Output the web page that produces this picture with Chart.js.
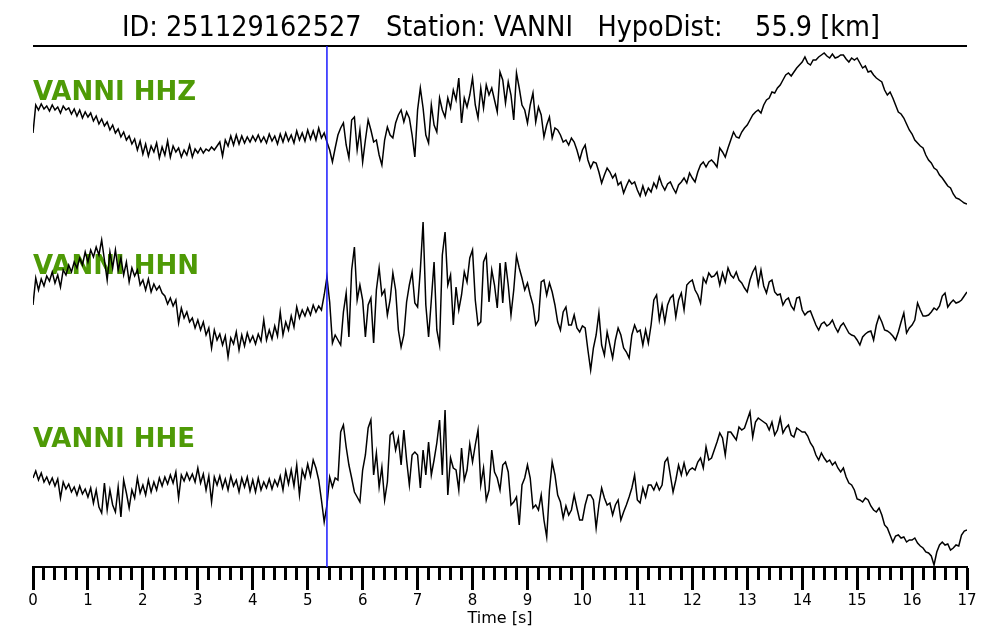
<!DOCTYPE html>
<html>
<head>
<meta charset="utf-8">
<title>VANNI seismogram</title>
<script src="https://cdn.jsdelivr.net/npm/chart.js@4.4.1/dist/chart.umd.min.js"></script>
<style>
  html, body { margin: 0; padding: 0; background: #fff; }
  #wrap { width: 1000px; height: 640px; }
</style>
</head>
<body>
<div id="wrap"><canvas id="myChart" width="1000" height="640"></canvas></div>
<script>
// Event / station info
const eventId = '251129162527';
const station = 'VANNI';
const hypoDist = 55.9;
const channels = ['HHZ', 'HHN', 'HHE'];

// Time axis: samples every 0.05 s from 0 to 17 s
const sampleStep = 0.05;
const timeMin = 0;
const timeMax = 17;
const pickTime = 5.35;

// Trace amplitudes (normalised units), one value per sample
const hhz = [
  -3, 25, 20, 26, 21, 24, 19, 25, 20, 23, 17, 24, 20, 22, 16, 21, 14, 20, 12, 18, 13,
  17, 9, 14, 6, 11, 4, 8, 0, 5, -3, 1, -7, -2, -10, -6, -14, -9, -20, -11, -24,
  -14, -26, -16, -22, -13, -28, -17, -25, -11, -27, -16, -22, -18, -27, -20, -25, -15, -27, -19, -23,
  -18, -23, -19, -21, -17, -20, -16, -12, -26, -10, -16, -6, -15, -5, -14, -6, -13, -7, -12, -6,
  -11, -5, -12, -7, -13, -4, -11, -6, -14, -4, -12, -3, -11, -5, -13, -1, -10, -3, -11, 0,
  -9, -1, -10, 2, -8, -3, -12, -20, -32, -18, -5, 2, 7, -15, -28, 10, 13, -20, 0, -32,
  -10, 10, 0, -12, -10, -25, -35, -10, 3, -5, -8, 7, 15, 20, 8, 18, 12, -5, -27, 20,
  42, 22, -5, -13, 25, 5, -2, 32, 20, 13, 32, 22, 40, 30, 52, 7, 32, 23, 35, 52,
  25, 12, 42, 22, 45, 35, 42, 30, 18, 58, 50, 27, 48, 35, 10, 57, 42, 25, 20, 7,
  25, 37, 8, 23, 15, -7, 5, 13, -8, 2, 0, -5, -12, -10, -15, -8, -12, -20, -30, -20,
  -15, -30, -38, -32, -33, -42, -53, -45, -38, -42, -48, -44, -55, -52, -63, -56, -50, -54, -52, -60,
  -66, -56, -65, -58, -62, -53, -58, -47, -55, -60, -54, -52, -58, -63, -55, -52, -48, -53, -43, -48,
  -52, -42, -35, -32, -37, -32, -30, -33, -37, -18, -22, -27, -18, -10, -2, -7, -8, -2, 2, 5,
  10, 15, 18, 20, 17, 25, 30, 32, 38, 37, 42, 45, 50, 55, 57, 54, 58, 62, 65, 68,
  73, 67, 65, 70, 70, 73, 75, 77, 74, 72, 76, 72, 73, 75, 75, 71, 68, 72, 70, 72,
  67, 62, 64, 58, 59, 55, 52, 50, 48, 40, 35, 38, 32, 25, 18, 16, 12, 6, 0, -4,
  -10, -13, -16, -18, -25, -30, -33, -38, -40, -45, -48, -52, -56, -58, -64, -68, -69, -71, -73, -74
];

const hhn = [
  -9, 18, 6, 17, 10, 20, 15, 24, 13, 21, 9, 26, 21, 31, 24, 34, 28, 38, 31, 44, 34,
  46, 39, 49, 41, 56, 36, 16, 44, 28, 46, 26, 38, 21, 34, 14, 28, 20, 26, 11, 16,
  6, 17, 4, 12, 6, 10, 3, 0, -8, -2, -10, -4, -27, -12, -22, -16, -26, -22, -32, -24,
  -34, -26, -39, -32, -52, -34, -44, -38, -49, -40, -61, -42, -48, -36, -54, -39, -50, -37, -46, -40,
  -48, -38, -45, -24, -44, -34, -43, -30, -40, -16, -39, -26, -34, -20, -31, -11, -22, -14, -20, -12,
  -19, -9, -16, -10, -14, 1, 19, -6, -47, -39, -44, -49, -16, 3, -41, 26, 49, -4, 11, -4,
  -41, -9, -2, -47, 6, 28, 1, 6, -19, -4, 23, 6, -34, -51, -39, -6, 11, 24, -7, -11,
  26, 74, -9, -41, -4, 34, -34, -49, 41, 64, 11, 21, -29, 9, -14, 1, 24, 14, 38, 46,
  -4, -29, -26, 34, 41, -6, 26, 11, -12, 33, -7, 34, 11, -19, 6, 40, 28, 18, 6, 13,
  1, -9, -29, -24, 14, 16, 1, 13, 4, -9, -26, -34, -16, -11, -29, -29, -19, -32, -36, -30,
  -32, -54, -74, -52, -39, -17, -49, -59, -36, -49, -62, -44, -32, -39, -52, -56, -62, -39, -29, -36,
  -34, -49, -34, -47, -29, -4, 1, -24, -9, -26, -9, -2, 1, -21, -4, 3, -14, 11, 14, 16,
  6, 1, -7, 18, 13, 23, 19, 20, 24, 11, 23, 14, 28, 21, 18, 24, 16, 13, 8, 4,
  16, 24, 29, 11, 26, 10, 3, 14, 16, 4, 1, 2, -9, -4, -2, -10, -14, -2, -1, -14,
  -19, -16, -15, -22, -29, -34, -28, -26, -30, -28, -24, -31, -36, -30, -27, -32, -37, -39, -40, -44,
  -49, -41, -38, -36, -35, -44, -29, -20, -26, -34, -35, -37, -40, -44, -36, -26, -17, -37, -32, -29,
  -24, -7, -14, -20, -20, -19, -16, -12, -14, -10, 0, 3, -11, -7, -4, -7, -6, -4, 0, 4
];

const hhe = [
  7, 14, 5, 12, 3, 8, 1, 7, -1, 6, -13, 3, -4, 1, -7, -2, -10, -1, -9, -4, -12,
  -3, -18, -5, -22, -28, 2, -25, -5, -20, -27, -2, -32, 5, -8, -23, -5, -13, 7, -8, 0,
  -10, 5, -7, 3, -5, 7, -1, 8, 1, 10, 2, 13, -13, 10, 4, 12, 5, 11, 3, 17,
  2, 11, -5, 9, -17, 8, 0, 9, -3, 6, -5, 9, -1, 5, -7, 7, -2, 8, -6, 5,
  -7, 7, -5, 3, -3, 6, -4, 5, -1, 9, -5, 14, 1, 15, -1, 20, -10, 15, 7, 21,
  9, 25, 17, 5, -15, -37, -20, 8, -2, 7, 5, 53, 60, 38, 20, 7, -7, -12, -17, 15,
  30, 57, 65, 10, 32, -2, 18, -15, 3, 50, 53, 35, 47, 20, 55, 25, 0, 30, 33, 30,
  -3, 35, 10, 43, 10, 25, 42, 65, 10, 75, -10, 27, 17, 15, -5, 37, 5, 15, 41, 23,
  40, 55, 0, 17, -15, -5, 35, 13, 7, -5, 20, 23, 13, -20, -17, -12, -40, 0, 7, 20,
  7, -23, -20, -25, -10, -35, -52, -5, 23, 10, -10, -17, -33, -21, -30, -25, -10, -23, -35, -35,
  -20, -10, -10, -15, -43, -20, -3, -13, -20, -18, -30, -20, -15, -35, -27, -20, -12, -3, 10, -15,
  -18, -3, -12, 0, 0, -5, 2, -5, 0, 23, 27, 10, -7, 5, 20, 10, 22, 10, 15, 17,
  15, 23, 27, 17, 38, 25, 27, 35, 43, 52, 47, 30, 53, 53, 49, 45, 58, 55, 57, 65,
  73, 48, 63, 67, 65, 63, 61, 55, 63, 50, 55, 67, 52, 57, 60, 50, 48, 57, 55, 53,
  53, 49, 42, 38, 30, 25, 32, 27, 23, 25, 20, 23, 17, 13, 17, 8, 2, 0, -5, -14,
  -15, -17, -13, -15, -21, -25, -27, -23, -30, -40, -43, -50, -57, -51, -50, -53, -52, -57, -55, -55,
  -53, -58, -61, -63, -67, -68, -71, -80, -67, -60, -57, -60, -59, -65, -63, -60, -61, -50, -46, -45
];

const traces = [hhz, hhn, hhe];
// vertical position of each trace's zero line on the (hidden) y scale
const traceOffsets = [437, 271, 82];
const yMin = 0;
const yMax = 521;

const fontFamily = '"DejaVu Sans", sans-serif';
const labelGreen = '#4e9a06';

function buildTrace(values, offset)
{
  return values.map((v, i) => ({ x: +(i * sampleStep).toFixed(2), y: offset + v }));
}

const datasets = [{
  label: 'pick',
  data: [{ x: pickTime, y: yMin }, { x: pickTime, y: yMax }],
  borderColor: '#1a1aff',
  borderWidth: 1.5,
  pointRadius: 0
}];

traces.forEach((tr, k) => {
  datasets.push({
    label: station + ' ' + channels[k],
    data: buildTrace(tr, traceOffsets[k]),
    borderColor: '#000',
    borderWidth: 1.5,
    pointRadius: 0,
    tension: 0
  });
});

// Title, rule under it and channel labels
const decorations = {
  id: 'decorations',
  beforeDatasetsDraw(chart)
  {
    const { ctx, chartArea } = chart;
    ctx.save();

    ctx.strokeStyle = '#000';
    ctx.lineWidth = 2;
    ctx.beginPath();
    ctx.moveTo(chartArea.left, chartArea.top);
    ctx.lineTo(chartArea.right, chartArea.top);
    ctx.stroke();

    const titleText = 'ID: ' + eventId + '   Station: ' + station + '   HypoDist:    ' + hypoDist.toFixed(1) + ' [km]';
    ctx.font = '29px ' + fontFamily;
    ctx.fillStyle = '#000';
    ctx.textAlign = 'center';
    ctx.textBaseline = 'alphabetic';
    const w = ctx.measureText(titleText).width;
    ctx.save();
    ctx.translate(501, 36);
    ctx.scale(758 / w, 1);
    ctx.fillText(titleText, 0, 0);
    ctx.restore();

    const labelBaselines = [100, 274, 447];
    ctx.font = 'bold 26px ' + fontFamily;
    ctx.fillStyle = labelGreen;
    ctx.textAlign = 'left';
    channels.forEach((c, k) => {
      ctx.fillText(station + ' ' + c, chartArea.left, labelBaselines[k]);
    });
    ctx.restore();
  }
};

const isWhole = (v) => Math.abs(v - Math.round(v)) < 1e-6;

const config = {
  type: 'line',
  data: { datasets },
  options: {
    responsive: false,
    animation: false,
    devicePixelRatio: 1,
    layout: { padding: { left: 33, right: 33, top: 46, bottom: 0 } },
    plugins: {
      legend: { display: false },
      tooltip: { enabled: false }
    },
    scales: {
      x: {
        type: 'linear',
        min: timeMin,
        max: timeMax,
        afterFit: (scale) => { scale.height = 73; },
        border: { display: true, color: '#000', width: 2 },
        grid: {
          display: true,
          drawOnChartArea: false,
          drawTicks: true,
          tickLength: 23,
          tickWidth: 3,
          tickColor: '#000',
          tickBorderDash: (ctx) => (ctx.tick && isWhole(ctx.tick.value)) ? [] : [12, 60]
        },
        ticks: {
          stepSize: 0.2,
          maxTicksLimit: 200,
          autoSkip: false,
          maxRotation: 0,
          padding: 2,
          color: '#000',
          font: { family: fontFamily, size: 15 },
          callback: (v) => isWhole(v) ? String(Math.round(v)) : ''
        },
        title: {
          display: true,
          text: 'Time [s]',
          color: '#000',
          font: { family: fontFamily, size: 16 },
          padding: { top: 0, bottom: 12 }
        }
      },
      y: {
        display: false,
        min: yMin,
        max: yMax
      }
    }
  },
  plugins: [decorations]
};

const seismoChart = new Chart(document.getElementById('myChart'), config);
</script>
</body>
</html>
